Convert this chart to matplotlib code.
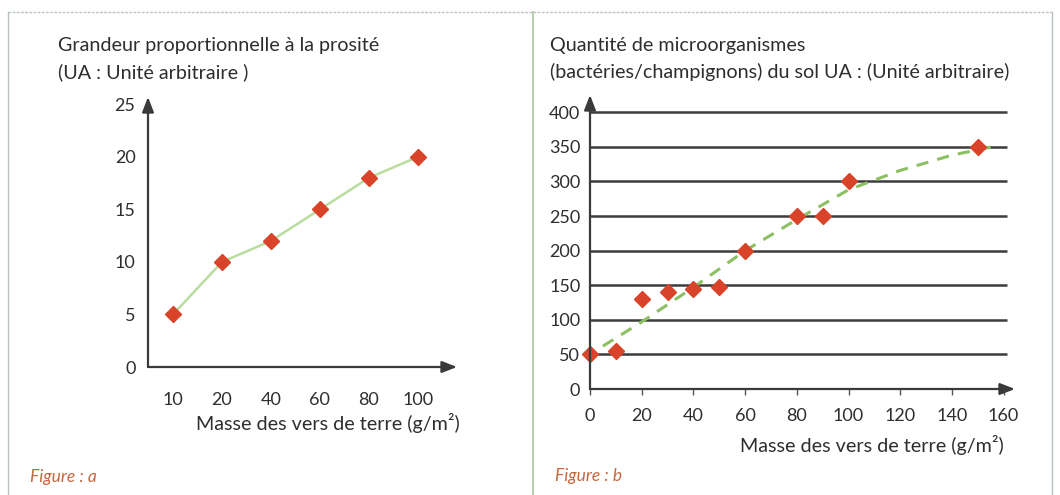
import matplotlib
matplotlib.use("Agg")
import matplotlib.pyplot as plt
from matplotlib.lines import Line2D

plt.rcParams['font.family'] = ['Lato', 'DejaVu Sans']

# figure a data
a_labels = ["10", "20", "40", "60", "80", "100"]
a_values = [5, 10, 12, 15, 18, 20]
a_yticks = [0, 5, 10, 15, 20, 25]

# figure b data
b_mass = [0, 10, 20, 30, 40, 50, 60, 80, 90, 100, 150]
b_micro = [50, 55, 130, 140, 145, 148, 200, 250, 250, 300, 350]
b_trend_x = [5, 20, 40, 60, 80, 100, 120, 140, 158]
b_trend_y = [62, 97, 147, 200, 245, 288, 316, 338, 352]
b_xticks = [0, 20, 40, 60, 80, 100, 120, 140, 160]
b_yticks = [0, 50, 100, 150, 200, 250, 300, 350, 400]

W, H = 1060, 495
TXT = "#2e2e2e"
RED = "#d8432a"
ORANGE = "#c4683f"
FS = 14.2
TICK_FS = 13


def px_axes(fig, x0, y0, x1, y1):
    # pixel box (top-left origin) -> figure fraction axes
    return fig.add_axes([x0 / W, 1 - y1 / H, (x1 - x0) / W, (y1 - y0) / H])


def arrows(ax):
    for s in ax.spines.values():
        s.set_visible(False)
    kw = dict(arrowstyle="-|>,head_length=0.9,head_width=0.35", color="#3a3a3a", lw=1.6,
              shrinkA=0, shrinkB=0)
    ax.annotate("", xy=(1, 0), xytext=(0, 0), xycoords="axes fraction",
                arrowprops=kw, annotation_clip=False)
    ax.annotate("", xy=(0, 1), xytext=(0, 0), xycoords="axes fraction",
                arrowprops=kw, annotation_clip=False)


fig = plt.figure(figsize=(W / 100, H / 100), dpi=100)

# frame around panels
frame = "#b8c4bc"
fig.add_artist(Line2D([8 / W, 1052 / W], [1 - 12 / H, 1 - 12 / H], color=frame, lw=1, ls=(0, (2, 1))))
fig.add_artist(Line2D([8 / W, 8 / W], [0, 1 - 12 / H], color=frame, lw=1))
fig.add_artist(Line2D([533 / W, 533 / W], [0, 1 - 12 / H], color="#a9c4a0", lw=1.2))
fig.add_artist(Line2D([1052 / W, 1052 / W], [0, 1 - 12 / H], color=frame, lw=1))

# ---- figure a ----
ax = px_axes(fig, 148, 97, 457, 367)
xs = list(range(len(a_labels)))
ax.plot(xs, a_values, color="#b9dc9f", lw=1.8, zorder=2)
ax.plot(xs, a_values, ls="none", marker="D", ms=8, color=RED, zorder=3)
ax.set_xlim(-0.51, 5.8)
ax.set_ylim(0, 25.7)
ax.set_xticks(xs)
ax.set_xticklabels(a_labels)
ax.set_yticks(a_yticks)
ax.tick_params(axis="both", length=0, labelsize=TICK_FS, colors=TXT)
ax.tick_params(axis="x", pad=18)
ax.tick_params(axis="y", pad=9)
arrows(ax)
fig.text(58 / W, 1 - 45 / H, "Grandeur proportionnelle à la prosité", fontsize=FS,
         color=TXT, va="center")
fig.text(58 / W, 1 - 72 / H, "(UA : Unité arbitraire )", fontsize=FS, color=TXT, va="center")
fig.text(328 / W, 1 - 423 / H, "Masse des vers de terre (g/m²)", fontsize=FS, color=TXT,
         ha="center", va="center")
fig.text(30 / W, 1 - 477 / H, "Figure : a", fontsize=12.5, color=ORANGE, style="italic",
         va="center")

# ---- figure b ----
bx = px_axes(fig, 590, 95, 1015, 389)
bx.hlines(b_yticks[1:], 0, 161.3, color="#3c3c3c", lw=1.8, zorder=1)
bx.plot(b_trend_x, b_trend_y, color="#8cc063", lw=2.2, ls=(0, (4, 3)), zorder=2)
bx.plot(b_mass, b_micro, ls="none", marker="D", ms=8, color=RED, zorder=3, clip_on=False)
bx.set_xlim(0, 164.4)
bx.set_ylim(0, 425)
bx.set_xticks(b_xticks)
bx.set_yticks(b_yticks)
bx.tick_params(axis="both", labelsize=TICK_FS, colors=TXT)
bx.tick_params(axis="x", length=4, width=1, color="#555555", pad=10)
bx.tick_params(axis="y", length=0, pad=7)
arrows(bx)
fig.text(550 / W, 1 - 45 / H, "Quantité de microorganismes", fontsize=FS, color=TXT,
         va="center")
fig.text(550 / W, 1 - 72 / H, "(bactéries/champignons) du sol UA : (Unité arbitraire)",
         fontsize=FS, color=TXT, va="center")
fig.text(872 / W, 1 - 445 / H, "Masse des vers de terre (g/m²)", fontsize=FS, color=TXT,
         ha="center", va="center")
fig.text(555 / W, 1 - 476 / H, "Figure : b", fontsize=12.5, color=ORANGE, style="italic",
         va="center")

fig.savefig("out.png", dpi=100)
